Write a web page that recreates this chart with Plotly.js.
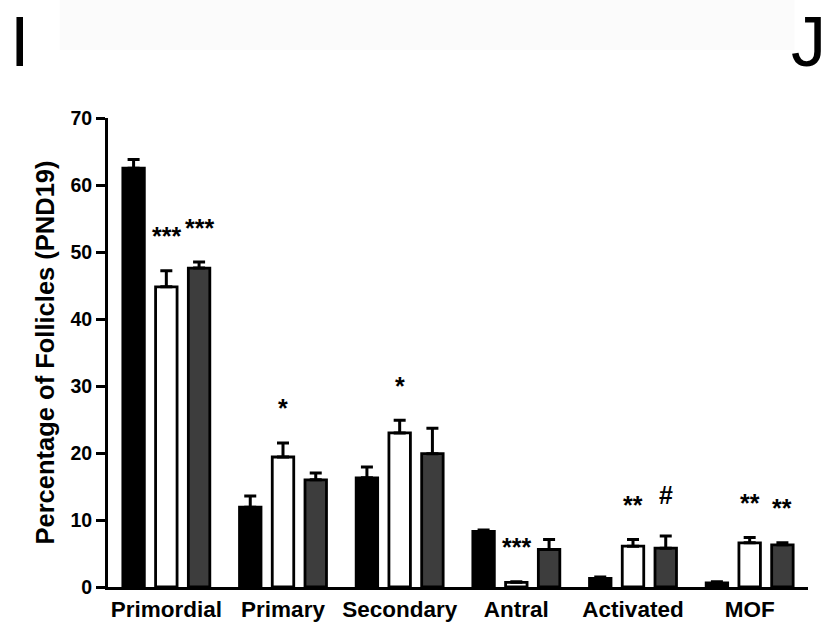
<!DOCTYPE html>
<html>
<head>
<meta charset="utf-8">
<script src="https://cdn.plot.ly/plotly-3.0.1.min.js"></script>
<style>
  html, body { margin: 0; padding: 0; background: #fff; }
  #chart { width: 828px; height: 623px; }
</style>
</head>
<body>
<div id="chart"></div>
<script>
// Follicle stage categories
const categories = ['Primordial', 'Primary', 'Secondary', 'Antral', 'Activated', 'MOF'];

// Mean percentage of follicles per group, with SEM
const controlMean = [62.5, 11.9, 16.3, 8.3, 1.3, 0.6];
const controlSem  = [1.3, 1.7, 1.6, 0.2, 0.2, 0.2];

const groupAMean  = [44.8, 19.4, 23.0, 0.7, 6.1, 6.6];
const groupASem   = [2.4, 2.1, 1.9, 0.1, 1.0, 0.8];

const groupBMean  = [47.6, 16.0, 19.9, 5.6, 5.8, 6.3];
const groupBSem   = [0.9, 1.0, 3.8, 1.5, 1.8, 0.3];

// Significance markers above each bar
const groupASig = ['***', '*', '*', '***', '**', '**'];
const groupBSig = ['***', '', '', '', '#', '**'];

// Y axis ticks
const yTicks = [0, 10, 20, 30, 40, 50, 60, 70];

const FONT = 'Liberation Sans, Arial, Helvetica, sans-serif';
const BARGAP = 0.158;
const slot = (1 - BARGAP) / 3;

function barTrace(name, y, err, fill) {
  return {
    type: 'bar',
    name: name,
    x: categories,
    y: y,
    marker: { color: fill, line: { color: '#000', width: 2.8 } },
    error_y: {
      type: 'data', symmetric: false, array: err,
      arrayminus: err.map(() => 0),
      color: '#000', thickness: 3, width: 6
    },
    hoverinfo: 'skip'
  };
}

const traces = [
  barTrace('Control', controlMean, controlSem, '#000000'),
  barTrace('Group A', groupAMean, groupASem, '#ffffff'),
  barTrace('Group B', groupBMean, groupBSem, '#3d3d3d')
];

const annotations = [];
function addSig(labels, means, sems, offset) {
  labels.forEach((t, i) => {
    if (!t) return;
    const hash = t === '#';
    annotations.push({
      xref: 'x', yref: 'y',
      x: i + offset, y: means[i] + sems[i] + 6.2,
      text: t, showarrow: false,
      yshift: hash ? 0 : -7,
      font: { family: FONT, size: 25, weight: 'bold', color: '#000' }
    });
  });
}
addSig(groupASig, groupAMean, groupASem, 0);
addSig(groupBSig, groupBMean, groupBSem, slot);

// Panel letters
annotations.push({
  xref: 'paper', yref: 'paper', x: -0.127, y: 1.249,
  xanchor: 'center', yanchor: 'top', showarrow: false,
  text: 'I', font: { family: FONT, size: 70, color: '#000' }
});
annotations.push({
  xref: 'paper', yref: 'paper', x: 1.0286, y: 1.249,
  xanchor: 'right', yanchor: 'top', showarrow: false,
  text: 'J', font: { family: FONT, size: 70, color: '#000' }
});

const layout = {
  width: 828, height: 623,
  margin: { l: 108, r: 20, t: 118, b: 36, pad: 0 },
  paper_bgcolor: '#fff', plot_bgcolor: '#fff',
  showlegend: false,
  barmode: 'group',
  bargap: BARGAP,
  bargroupgap: 0.344,
  font: { family: FONT, color: '#000' },
  shapes: [{
    type: 'rect', xref: 'paper', yref: 'paper', layer: 'below',
    x0: -0.069, x1: 0.981, y0: 1.145, y1: 1.26,
    fillcolor: 'rgba(0,0,0,0.015)', line: { width: 0 }
  }],
  xaxis: {
    type: 'category',
    range: [-0.5, 5.5],
    showline: true, linecolor: '#000', linewidth: 3,
    ticks: '', showgrid: false, zeroline: false,
    tickfont: { family: FONT, size: 22.5, weight: 'bold', color: '#000' },
    automargin: false, fixedrange: true
  },
  yaxis: {
    range: [0, 70],
    tickvals: yTicks,
    ticktext: yTicks.map(String),
    showline: true, linecolor: '#000', linewidth: 3,
    ticks: 'outside', ticklen: 9, tickwidth: 3, tickcolor: '#000',
    showgrid: false, zeroline: false,
    tickfont: { family: FONT, size: 19.5, weight: 'bold', color: '#000' },
    title: {
      text: 'Percentage of Follicles (PND19)',
      font: { family: FONT, size: 25.5, weight: 'bold', color: '#000' },
      standoff: 9
    },
    automargin: false, fixedrange: true
  },
  annotations: annotations
};

Plotly.newPlot('chart', traces, layout, { displayModeBar: false, staticPlot: true });
</script>
</body>
</html>
